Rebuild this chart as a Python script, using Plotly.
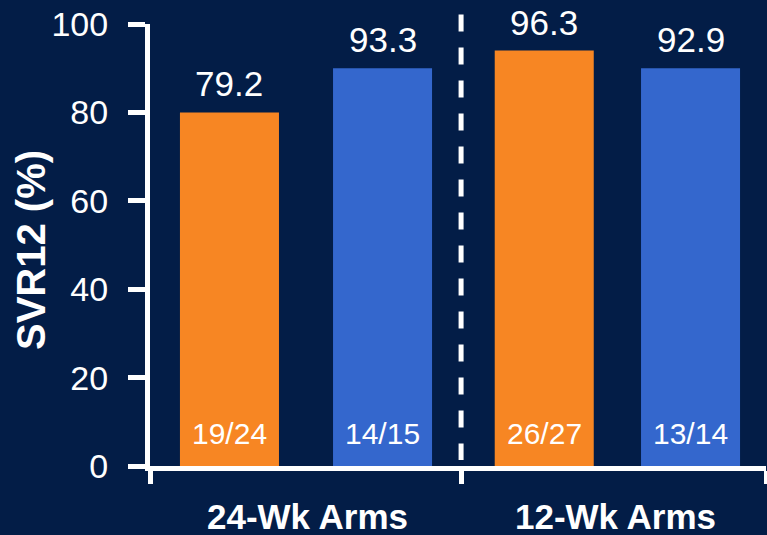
import plotly.graph_objects as go

# ---- data ----
groups = ["24-Wk Arms", "12-Wk Arms"]
arms = ["24-Wk A", "24-Wk B", "12-Wk A", "12-Wk B"]
bar_heights = [80, 90, 94, 90]          # drawn bar heights
value_labels = ["79.2", "93.3", "96.3", "92.9"]
count_labels = ["19/24", "14/15", "26/27", "13/14"]
y_ticks = [0, 20, 40, 60, 80, 100]

# ---- layout constants ----
BG = "#031d47"
ORANGE = "#F78623"
BLUE = "#3467CD"
bar_colors = [ORANGE, BLUE, ORANGE, BLUE]
bar_pos = [0.516, 1.51, 2.56, 3.51]
group_pos = [1.02, 3.02]
DIVIDER = 2.02
FONT = "Liberation Sans, Arial, sans-serif"

fig = go.Figure()
fig.add_trace(go.Bar(
    x=bar_pos, y=bar_heights, width=0.643,
    marker=dict(color=bar_colors, line=dict(width=0)),
    hoverinfo="skip", showlegend=False,
))

annotations = []
for xp, h, v in zip(bar_pos, bar_heights, value_labels):
    annotations.append(dict(x=xp, y=h, xref="x", yref="y", text=v, showarrow=False,
                            yanchor="bottom", yshift=7,
                            font=dict(family=FONT, size=35, color="white")))
for xp, c in zip(bar_pos, count_labels):
    annotations.append(dict(x=xp, y=0, xref="x", yref="y", text=c, showarrow=False,
                            yanchor="bottom", yshift=14,
                            font=dict(family=FONT, size=30, color="white")))
for xp, g in zip(group_pos, groups):
    annotations.append(dict(x=xp, y=-0.115, xref="x", yref="paper", text="<b>%s</b>" % g,
                            showarrow=False, yanchor="middle",
                            font=dict(family=FONT, size=35, color="white")))
annotations.append(dict(x=-0.192, y=0.488, xref="paper", yref="paper", text="<b>SVR12 (%)</b>",
                        textangle=-90, showarrow=False, xanchor="center", yanchor="middle",
                        font=dict(family=FONT, size=40, color="white")))

fig.update_layout(
    width=767, height=535,
    margin=dict(l=150, r=1, t=24, b=69, pad=0),
    paper_bgcolor=BG, plot_bgcolor=BG,
    font=dict(family=FONT, color="white"),
    annotations=annotations,
    shapes=[dict(type="line", xref="x", yref="paper", x0=DIVIDER, x1=DIVIDER,
                 y0=1.0215, y1=0.0136,
                 line=dict(color="white", width=5, dash="17px,16px"))],
    xaxis=dict(range=[0, 4], showgrid=False, zeroline=False, showline=True,
               linecolor="white", linewidth=5, ticks="outside", ticklen=13,
               tickwidth=5, tickcolor="white", tickvals=[0, DIVIDER, 4],
               ticktext=["", "", ""], fixedrange=True),
    yaxis=dict(range=[0, 100], tickvals=y_ticks, showgrid=False, zeroline=False,
               showline=True, linecolor="white", linewidth=5, ticks="outside",
               ticklen=17, tickwidth=5, tickcolor="white", ticklabelstandoff=13,
               tickfont=dict(family=FONT, size=34, color="white"), fixedrange=True),
)

fig.write_html("out.html")
